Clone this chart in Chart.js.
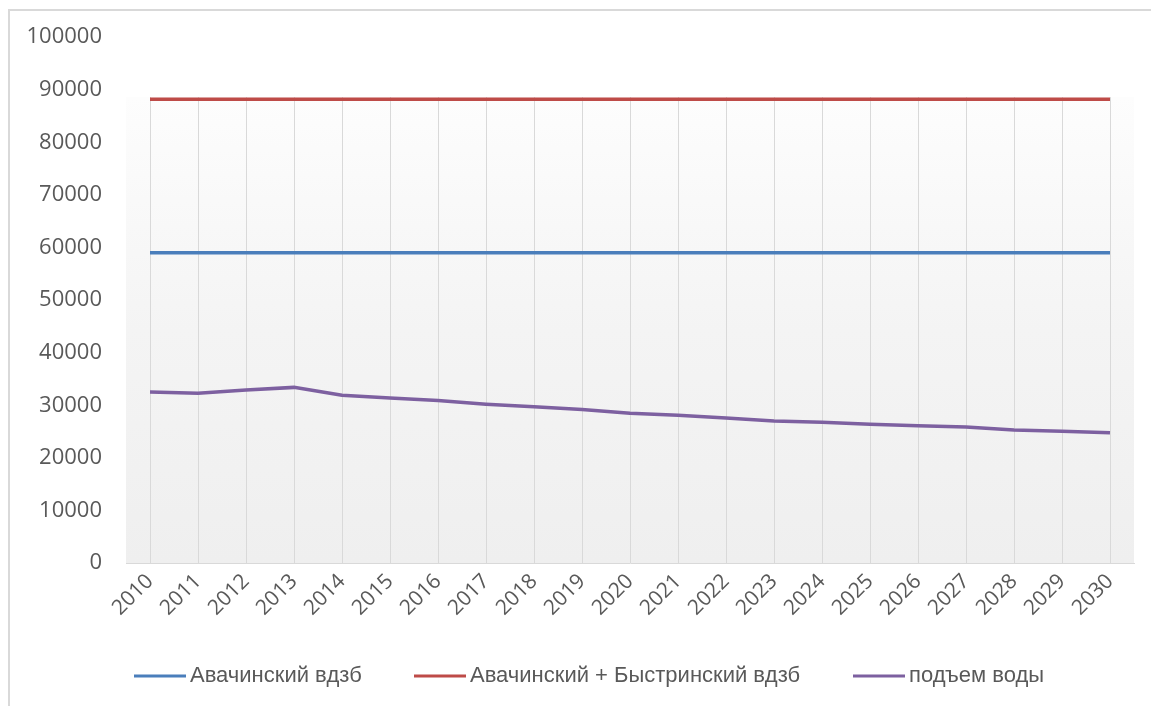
<!DOCTYPE html>
<html>
<head>
<meta charset="utf-8">
<script src="https://cdn.jsdelivr.net/npm/chart.js@4.4.0/dist/chart.umd.min.js"></script>
<style>
    html, body { margin: 0; padding: 0; background: #fff; }
    .wrap { position: relative; width: 1151px; height: 706px; overflow: hidden; }
    .frame {
        position: absolute; left: 8px; top: 9px; width: 1200px; height: 800px;
        border-top: 2px solid #d9d9d9; border-left: 2px solid #d9d9d9;
    }
    canvas { position: absolute; left: 0; top: 0; }
</style>
</head>
<body>
<div class="wrap">
    <div class="frame"></div>
    <canvas id="chart" width="1151" height="706"></canvas>
</div>
<script>
// --- data ---
const years = ['2010', '2011', '2012', '2013', '2014', '2015', '2016', '2017', '2018', '2019', '2020',
               '2021', '2022', '2023', '2024', '2025', '2026', '2027', '2028', '2029', '2030'];

const avacha = [59000, 59000, 59000, 59000, 59000, 59000, 59000, 59000, 59000, 59000, 59000,
                59000, 59000, 59000, 59000, 59000, 59000, 59000, 59000, 59000, 59000];

const avachaBystr = [88200, 88200, 88200, 88200, 88200, 88200, 88200, 88200, 88200, 88200, 88200,
                     88200, 88200, 88200, 88200, 88200, 88200, 88200, 88200, 88200, 88200];

const waterLift = [32500, 32300, 32900, 33400, 31900, 31400, 30900, 30200, 29700, 29200, 28500,
                   28100, 27600, 27000, 26750, 26400, 26100, 25850, 25300, 25050, 24750];

const seriesNames = ['Авачинский вдзб', 'Авачинский + Быстринский вдзб', 'подъем воды'];
const seriesColors = ['#4a7ebb', '#be4b48', '#7d60a0'];

// layout bits
const plotBgTopValue = 88600;      // excel plot area starts just above the red line
const legendX = [134, 414, 853];
const legendY = 676;

// plot area gradient + vertical grid lines (only inside the grey plot area)
const plotBackground = {
    id: 'plotBackground',
    beforeDatasetsDraw(chart) {
        const { ctx, chartArea, scales } = chart;
        const top = scales.y.getPixelForValue(plotBgTopValue);
        const bottom = chartArea.bottom;
        const grad = ctx.createLinearGradient(0, top, 0, bottom);
        grad.addColorStop(0, '#fdfdfd');
        grad.addColorStop(0.5, '#f4f4f4');
        grad.addColorStop(1, '#efefef');
        ctx.save();
        ctx.fillStyle = grad;
        ctx.fillRect(chartArea.left, top, chartArea.right - chartArea.left, bottom - top);
        ctx.strokeStyle = '#d9d9d9';
        ctx.lineWidth = 1;
        scales.x.ticks.forEach((t, i) => {
            const x = Math.round(scales.x.getPixelForTick(i)) + 0.5;
            ctx.beginPath();
            ctx.moveTo(x, top);
            ctx.lineTo(x, bottom);
            ctx.stroke();
        });
        ctx.restore();
    }
};

// legend drawn at fixed spots like the excel one
const bottomLegend = {
    id: 'bottomLegend',
    afterDraw(chart) {
        const { ctx } = chart;
        ctx.save();
        ctx.font = '22px "Liberation Sans Narrow", "Liberation Sans", sans-serif';
        ctx.textBaseline = 'middle';
        chart.data.datasets.forEach((ds, i) => {
            const x = legendX[i];
            ctx.strokeStyle = ds.borderColor;
            ctx.lineWidth = 3;
            ctx.beginPath();
            ctx.moveTo(x, legendY);
            ctx.lineTo(x + 52, legendY);
            ctx.stroke();
            ctx.fillStyle = '#595959';
            ctx.fillText(ds.label, x + 56, legendY);
        });
        ctx.restore();
    }
};

const ctx = document.getElementById('chart').getContext('2d');
new Chart(ctx, {
    type: 'line',
    data: {
        labels: years,
        datasets: [avacha, avachaBystr, waterLift].map((vals, i) => ({
            label: seriesNames[i],
            data: vals,
            borderColor: seriesColors[i],
            backgroundColor: seriesColors[i],
            borderWidth: 3.5,
            pointRadius: 0,
            tension: 0,
            fill: false
        }))
    },
    options: {
        responsive: false,
        animation: false,
        layout: { padding: { top: 37, left: 0, right: 17, bottom: 0 } },
        plugins: {
            legend: { display: false },
            tooltip: { enabled: false }
        },
        scales: {
            x: {
                type: 'category',
                offset: true,
                grid: { display: false, drawTicks: false },
                border: { display: true, color: '#d9d9d9', width: 1 },
                ticks: {
                    color: '#595959',
                    font: { family: '"Open Sans", sans-serif', size: 21 },
                    minRotation: 45,
                    maxRotation: 45,
                    padding: 6,
                    autoSkip: false
                },
                afterFit(scale) { scale.height = 143; }
            },
            y: {
                min: 0,
                max: 100000,
                grid: { display: false, drawTicks: false },
                border: { display: false },
                ticks: {
                    stepSize: 10000,
                    color: '#595959',
                    font: { family: '"Open Sans", sans-serif', size: 22 },
                    padding: 24,
                    callback: v => String(v)
                },
                afterFit(scale) { scale.width = 126; }
            }
        }
    },
    plugins: [plotBackground, bottomLegend]
});
</script>
</body>
</html>
